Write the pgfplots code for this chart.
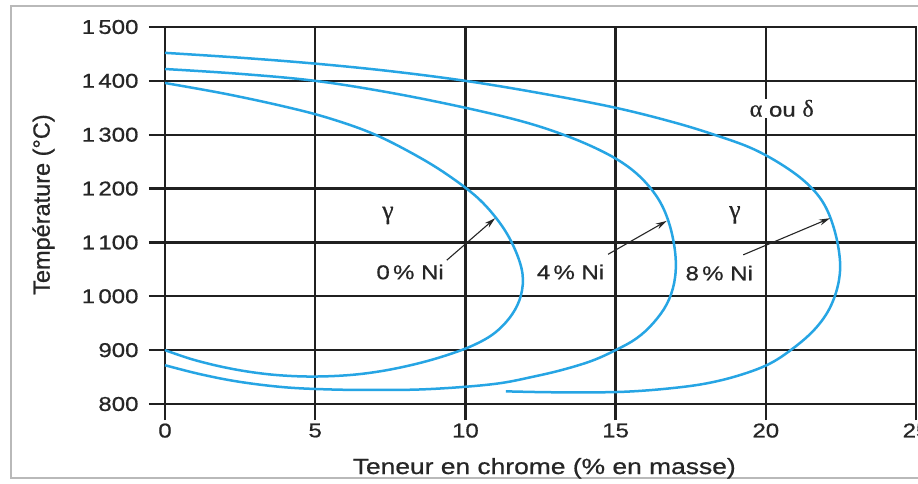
\documentclass[border=0pt]{standalone}
\usepackage{fontspec}
\setmainfont{Liberation Sans}[FakeBold=0.7]
\newfontfamily\widefont{Liberation Sans}[FakeStretch=1.2,FakeBold=0.7]
\newfontfamily\greekfont{Liberation Serif}[FakeBold=0.5]
\usepackage{pgfplots}
\pgfplotsset{compat=1.18}
\usetikzlibrary{arrows.meta}
\definecolor{curve}{RGB}{38,165,228}
\definecolor{gridc}{RGB}{32,32,32}
\begin{document}
\begin{tikzpicture}
\useasboundingbox (0,0) rectangle (918bp,484bp);
\clip (0,0) rectangle (918bp,484bp);
\fill[white] (0,0) rectangle (918bp,484bp);
\draw[gray!55, line width=1.5bp] (11bp,6bp) rectangle (940bp,478bp);
\begin{axis}[
  at={(165bp,80bp)}, anchor=south west,
  scale only axis, width=751bp, height=377bp,
  xmin=0, xmax=25, ymin=800, ymax=1500,
  xtick={0,5,...,25}, ytick={800,900,...,1500},
  grid=major, major grid style={gridc, line width=2.4bp},
  axis line style={gridc, line width=2.4bp},
  tick style={gridc, line width=2.4bp},
  tick align=outside, major tick length=16bp, tick pos=left,
  /pgf/number format/assume math mode=true,
  /pgf/number format/1000 sep={\,},
  ticklabel style={font=\widefont\fontsize{20bp}{24bp}\selectfont, text=black!85},
  yticklabel style={xshift=-7bp},
  xlabel={Teneur en chrome (\% en masse)},
  ylabel={Température (°C)},
  xlabel style={font=\widefont\fontsize{22bp}{26bp}\selectfont, text=black!85, at={(axis description cs:0.505,-0.1857)}, anchor=base},
  ylabel style={font=\fontsize{23.5bp}{28bp}\selectfont, text=black!85, at={(axis description cs:-0.1618,0.529)}, anchor=center},
  clip=false,
]
\addplot[curve, line width=2.5bp, smooth, tension=0.6] coordinates {
(0,1396) (2,1376) (4,1352) (5.5,1330) (7,1300) (8.5,1257) (9.6,1218) (10.5,1178) (11.2,1132) (11.65,1087) (11.9,1042) (11.85,1002) (11.55,966) (11.0,933) (10.3,910) (9.4,891) (8.4,875) (7.3,862) (6.2,854) (5,851) (3.9,853) (2.9,859) (1.9,869) (0.9,883) (0,900)
};
\addplot[curve, line width=2.5bp, smooth, tension=0.6] coordinates {
(0,1422) (2.5,1413) (5,1400) (7.5,1378) (10,1350) (12,1323) (13.5,1295) (14.7,1265) (15.5,1237) (16.1,1205) (16.55,1168) (16.85,1122) (17.0,1070) (16.95,1025) (16.7,985) (16.25,950) (15.7,922) (15,900) (14.2,880) (13.2,863) (12.2,850) (11.2,839) (10,832) (8.5,827) (7,826) (5.5,827) (4,831) (2.5,841) (1.2,855) (0,872)
};
\addplot[curve, line width=2.5bp, smooth, tension=0.6] coordinates {
(0,1452) (2.5,1443) (5,1432) (7.5,1418) (10,1400) (12.5,1377) (15,1350) (17,1322) (18.5,1296) (19.6,1273) (20.6,1242) (21.4,1208) (21.95,1170) (22.3,1120) (22.47,1065) (22.4,1020) (22.1,975) (21.6,937) (20.9,903) (20.1,874) (19.1,853) (18,838) (16.8,829) (15.4,823) (14,821.5) (12.6,822) (11.35,823.5)
};
\draw[-{Stealth[length=11bp,width=6bp]}, line width=1.1bp, black!85] (axis cs:9.38,1067) -- (axis cs:10.99,1145);
\draw[-{Stealth[length=11bp,width=6bp]}, line width=1.1bp, black!85] (axis cs:14.75,1078) -- (axis cs:16.7,1140);
\draw[-{Stealth[length=11bp,width=6bp]}, line width=1.1bp, black!85] (axis cs:19.25,1077) -- (axis cs:22.14,1145);
\node[font=\widefont\fontsize{20bp}{24bp}\selectfont, text=black!85] at (axis cs:8.16,1045) {0\,\% Ni};
\node[font=\widefont\fontsize{20bp}{24bp}\selectfont, text=black!85] at (axis cs:13.5,1045) {4\,\% Ni};
\node[font=\widefont\fontsize{20bp}{24bp}\selectfont, text=black!85] at (axis cs:18.45,1043) {8\,\% Ni};
\node[font=\greekfont\fontsize{26bp}{30bp}\selectfont, text=black!85] at (axis cs:7.42,1150) {γ};
\node[font=\greekfont\fontsize{26bp}{30bp}\selectfont, text=black!85] at (axis cs:18.97,1151) {γ};
\node[fill=white, inner sep=1bp, font=\widefont\fontsize{20bp}{24bp}\selectfont, text=black!85] at (axis cs:20.53,1349) {{\greekfont\fontsize{24bp}{28bp}\selectfont α} ou {\greekfont\fontsize{24bp}{28bp}\selectfont δ}};
\end{axis}
\end{tikzpicture}
\end{document}
